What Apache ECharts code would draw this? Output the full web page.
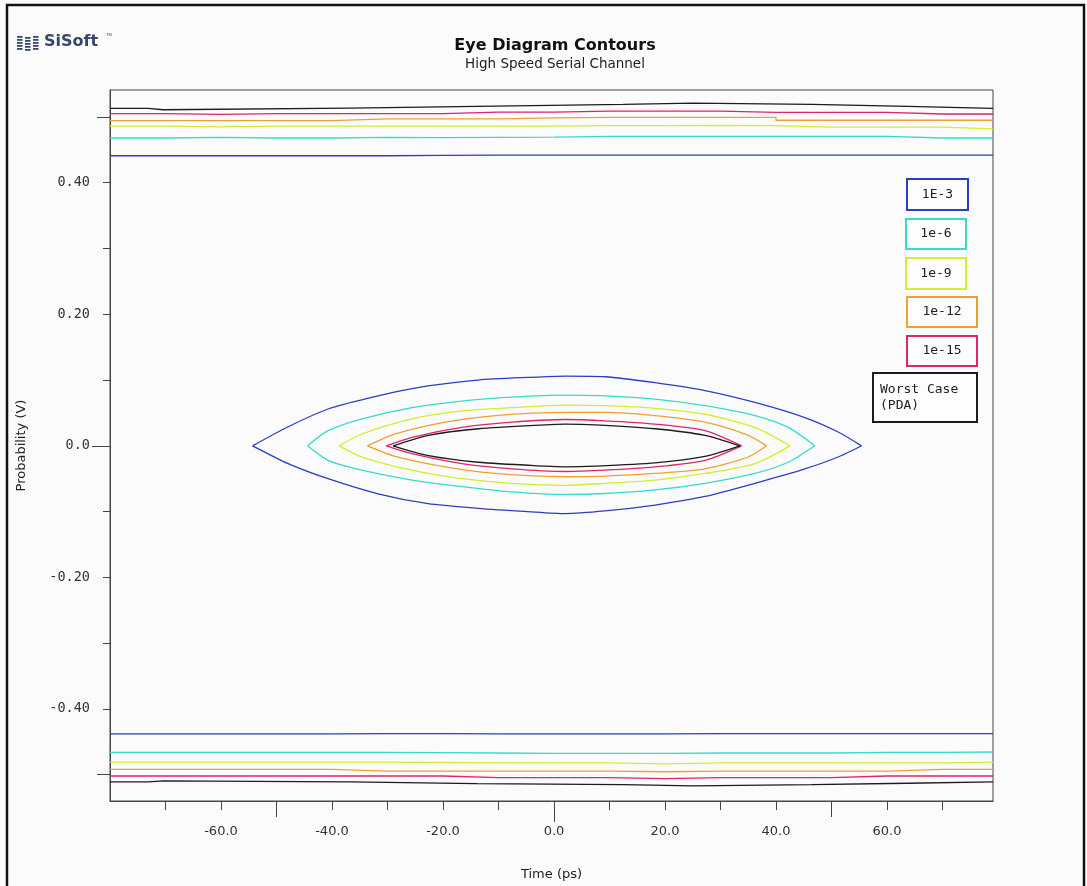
<!DOCTYPE html>
<html>
<head>
<meta charset="utf-8">
<script src="https://cdn.jsdelivr.net/npm/echarts@6/dist/echarts.min.js"></script>
<style>
html,body{margin:0;padding:0;background:#fbfbfb;}
#chart{width:1087px;height:886px;}
</style>
</head>
<body>
<div id="chart"></div>
<script>
// ---------- DATA ----------
const levelNames = ['1E-3', '1e-6', '1e-9', '1e-12', '1e-15', 'Worst Case\n(PDA)'];

const xTicks = [-70, -60, -50, -40, -30, -20, -10, 0, 10, 20, 30, 40, 50, 60, 70];
const xLabels = [-60, -40, -20, 0, 20, 40, 60];
const yTicks = [-0.5, -0.4, -0.3, -0.2, -0.1, 0, 0.1, 0.2, 0.3, 0.4, 0.5];
const yLabels = [-0.4, -0.2, 0, 0.2, 0.4];

// eye contours (time ps, voltage V) - upper and lower halves
const eye1E3X   = [-54.3, -47.9, -40.7, -31.7, -22.7, -13.7, -4.7, 2.0, 9.2, 18.2, 27.2, 36.2, 45.2, 51.2, 55.4];
const eye1E3Top = [0, 0.029, 0.056, 0.076, 0.091, 0.100, 0.104, 0.106, 0.105, 0.096, 0.084, 0.066, 0.043, 0.021, 0];
const eye1E3Bot = [0, -0.027, -0.050, -0.073, -0.088, -0.095, -0.100, -0.103, -0.099, -0.090, -0.077, -0.057, -0.035, -0.017, 0];

const eye1e6X   = [-44.4, -40.7, -34.6, -25.6, -16.6, -7.6, 2.0, 9.2, 18.2, 27.2, 36.2, 42.2, 47.0];
const eye1e6Top = [0, 0.023, 0.041, 0.058, 0.068, 0.074, 0.077, 0.076, 0.071, 0.061, 0.046, 0.028, 0];
const eye1e6Bot = [0, -0.022, -0.037, -0.052, -0.062, -0.070, -0.074, -0.0725, -0.067, -0.057, -0.042, -0.025, 0];

const eye1e9X   = [-38.7, -34.6, -25.6, -16.6, -7.6, 2.0, 9.2, 18.2, 27.2, 36.2, 42.5];
const eye1e9Top = [0, 0.018, 0.041, 0.053, 0.058, 0.062, 0.061, 0.057, 0.048, 0.028, 0];
const eye1e9Bot = [0, -0.017, -0.037, -0.050, -0.057, -0.060, -0.057, -0.052, -0.042, -0.027, 0];

const eye1e12X   = [-33.6, -28.6, -19.6, -10.6, 2.0, 9.2, 18.2, 27.2, 35.0, 38.3];
const eye1e12Top = [0, 0.018, 0.036, 0.046, 0.051, 0.051, 0.046, 0.036, 0.016, 0];
const eye1e12Bot = [0, -0.016, -0.032, -0.042, -0.047, -0.046, -0.042, -0.035, -0.017, 0];

const eye1e15X   = [-30.2, -25.6, -16.6, -7.6, 2.0, 9.2, 18.2, 27.2, 33.8];
const eye1e15Top = [0, 0.013, 0.028, 0.036, 0.040, 0.038, 0.033, 0.023, 0];
const eye1e15Bot = [0, -0.012, -0.027, -0.035, -0.039, -0.037, -0.032, -0.022, 0];

const eyePdaX   = [-29.0, -22.6, -13.6, -1.6, 2.0, 7.4, 18.2, 27.2, 33.5];
const eyePdaTop = [0, 0.016, 0.026, 0.032, 0.033, 0.032, 0.026, 0.016, 0];
const eyePdaBot = [0, -0.015, -0.025, -0.031, -0.032, -0.031, -0.026, -0.016, 0];

// upper / lower rails (time ps, voltage V)
const railX = [-80, -70, -60, -50, -40, -30, -20, -10, 0, 10, 20, 30, 40, 50, 60, 70, 79.1];
const rail1E3Top  = [0.441, 0.441, 0.441, 0.441, 0.441, 0.4415, 0.442, 0.442, 0.442, 0.442, 0.442, 0.442, 0.442, 0.442, 0.442, 0.442, 0.442];
const rail1e6Top  = [0.468, 0.469, 0.468, 0.468, 0.469, 0.4685, 0.469, 0.4695, 0.4705, 0.4705, 0.4705, 0.4705, 0.4705, 0.4705, 0.468, 0.468, 0.467];
const rail1e9Top  = [0.486, 0.485, 0.486, 0.486, 0.486, 0.486, 0.486, 0.486, 0.4867, 0.4867, 0.487, 0.4867, 0.4845, 0.4845, 0.4845, 0.482, 0.482];
const rail1e12Top = [0.4945, 0.4945, 0.4945, 0.4945, 0.497, 0.497, 0.497, 0.4985, 0.4995, 0.4995, 0.4995, 0.4995, 0.495, 0.495, 0.495, 0.495, 0.495];
const rail1e15Top = [0.505, 0.504, 0.505, 0.505, 0.505, 0.505, 0.5075, 0.5075, 0.509, 0.509, 0.509, 0.507, 0.507, 0.507, 0.5045, 0.5045, 0.5045];

const rail1E3Bot  = [-0.438, -0.438, -0.438, -0.438, -0.4375, -0.4375, -0.438, -0.438, -0.438, -0.438, -0.4375, -0.4375, -0.4375, -0.4375, -0.4375, -0.4375, -0.438];
const rail1e6Bot  = [-0.466, -0.466, -0.466, -0.466, -0.466, -0.4665, -0.467, -0.4675, -0.4675, -0.4675, -0.467, -0.467, -0.467, -0.466, -0.466, -0.4655, -0.4645];
const rail1e9Bot  = [-0.481, -0.481, -0.481, -0.481, -0.481, -0.4815, -0.482, -0.482, -0.482, -0.4835, -0.482, -0.482, -0.482, -0.482, -0.482, -0.481, -0.481];
const rail1e12Bot = [-0.492, -0.492, -0.492, -0.492, -0.4945, -0.4945, -0.4945, -0.4945, -0.4945, -0.4955, -0.4945, -0.4945, -0.4945, -0.4945, -0.492, -0.492, -0.492];
const rail1e15Bot = [-0.502, -0.502, -0.502, -0.502, -0.502, -0.502, -0.5045, -0.5045, -0.5045, -0.506, -0.5045, -0.5045, -0.5045, -0.502, -0.502, -0.502, -0.502];

const railPdaX   = [-80, -73.1, -70.4, -36.8, -13.9, 12.5, 25.1, 46.4, 63.8, 79.1];
const railPdaTop = [0.513, 0.511, 0.5135, 0.516, 0.519, 0.521, 0.519, 0.516, 0.513, 0.513];
const railPdaBot = [-0.511, -0.5095, -0.511, -0.5135, -0.515, -0.517, -0.515, -0.513, -0.511, -0.511];

// ---------- STYLE / LAYOUT ----------
const colors = ['#2b3fc4', '#35dcca', '#d2ee2c', '#f0a032', '#e0246e', '#1c1c1c'];
const FONT = 'DejaVu Sans';
const MONO = 'DejaVu Sans Mono';
const legendBoxes = [
  {x: 907, y: 179, w: 61, h: 31},
  {x: 906, y: 219, w: 60, h: 30},
  {x: 906, y: 258, w: 60, h: 31},
  {x: 907, y: 297, w: 70, h: 30},
  {x: 907, y: 336, w: 70, h: 30},
  {x: 873, y: 373, w: 104, h: 49}
];

const eyes = [
  [eye1E3X, eye1E3Top, eye1E3Bot],
  [eye1e6X, eye1e6Top, eye1e6Bot],
  [eye1e9X, eye1e9Top, eye1e9Bot],
  [eye1e12X, eye1e12Top, eye1e12Bot],
  [eye1e15X, eye1e15Top, eye1e15Bot],
  [eyePdaX, eyePdaTop, eyePdaBot]
];
const rails = [
  [railX, rail1E3Top, rail1E3Bot],
  [railX, rail1e6Top, rail1e6Bot],
  [railX, rail1e9Top, rail1e9Bot],
  [railX, rail1e12Top, rail1e12Bot],
  [railX, rail1e15Top, rail1e15Bot],
  [railPdaX, railPdaTop, railPdaBot]
];

function zip(xs, ys) { return xs.map((x, i) => [x, ys[i]]); }
function lineSeries(name, color, data, step) {
  return {
    type: 'line', name: name, data: data, showSymbol: false, symbol: 'none',
    step: step || false, smooth: step ? false : 0.25, silent: true, animation: false,
    lineStyle: {color: color, width: 1.3}, z: 3
  };
}

const series = [];
levelNames.forEach((n, i) => {
  const e = eyes[i], r = rails[i];
  series.push(lineSeries(n, colors[i], zip(e[0], e[1])));
  series.push(lineSeries(n, colors[i], zip(e[0], e[2])));
  series.push(lineSeries(n, colors[i], zip(r[0], r[1]), 'end'));
  series.push(lineSeries(n, colors[i], zip(r[0], r[2]), 'end'));
});

const X_MIN = -80, X_MAX = 79.1, Y_MIN = -0.54, Y_MAX = 0.541;
const axisColor = '#454545';

function xAxisExtra(vals, len) {
  return {type: 'value', min: X_MIN, max: X_MAX, position: 'bottom',
    axisLine: {show: false, onZero: false}, splitLine: {show: false}, axisLabel: {show: false},
    axisTick: {show: true, customValues: vals, length: len, lineStyle: {color: axisColor}}};
}
function yAxisExtra(vals, len) {
  return {type: 'value', min: Y_MIN, max: Y_MAX, position: 'left',
    axisLine: {show: false, onZero: false}, splitLine: {show: false}, axisLabel: {show: false},
    axisTick: {show: true, customValues: vals, length: len, lineStyle: {color: axisColor}}};
}

const graphic = [];
// outer frame
graphic.push({type: 'rect', shape: {x: 7, y: 5, width: 1077, height: 900},
  style: {fill: 'none', stroke: '#111', lineWidth: 2.5}, silent: true});
// logo
const logoColor = '#34486c';
for (let c = 0; c < 3; c++) {
  for (let r = 0; r < 5; r++) {
    graphic.push({type: 'rect', shape: {x: 17 + c * 8, y: 36 + r * 3 + (c === 1 ? 1 : 0), width: 5.5, height: 1.8},
      style: {fill: logoColor}, silent: true});
  }
}
graphic.push({type: 'text', left: 44, top: 34, style: {text: 'SiSoft', font: 'bold 16px "DejaVu Sans"', fill: logoColor}, silent: true});
graphic.push({type: 'text', left: 106, top: 33, style: {text: 'TM', font: '4px sans-serif', fill: logoColor}, silent: true});
// legend boxes
levelNames.forEach((n, i) => {
  const b = legendBoxes[i];
  graphic.push({type: 'rect', shape: {x: b.x, y: b.y, width: b.w, height: b.h},
    style: {fill: '#fdfdfd', stroke: colors[i], lineWidth: 2}, z: 10, silent: true});
  const multi = n.indexOf('\n') >= 0;
  graphic.push({type: 'text', z: 11, silent: true,
    x: multi ? b.x + 7 : b.x + b.w / 2, y: b.y + b.h / 2,
    style: {text: n, font: '13px ' + MONO, fill: '#222', align: multi ? 'left' : 'center',
      verticalAlign: 'middle', lineHeight: 16}});
});

const option = {
  backgroundColor: '#fbfbfb',
  animation: false,
  title: {
    text: 'Eye Diagram Contours', subtext: 'High Speed Serial Channel',
    left: 550, textAlign: 'center', top: 33, itemGap: 3,
    textStyle: {fontFamily: FONT, fontWeight: 'bold', fontSize: 16, color: '#111'},
    subtextStyle: {fontFamily: FONT, fontSize: 13.5, color: '#222'}
  },
  grid: {left: 110, right: 94, top: 90, bottom: 80, show: true, borderColor: axisColor, borderWidth: 1, backgroundColor: 'transparent'},
  xAxis: [
    {type: 'value', min: X_MIN, max: X_MAX, position: 'bottom',
      name: 'Time (ps)', nameLocation: 'middle', nameGap: 67,
      nameTextStyle: {fontFamily: FONT, fontSize: 13, color: '#222'},
      axisLine: {show: true, onZero: false, lineStyle: {color: axisColor}},
      splitLine: {show: false},
      axisTick: {show: true, customValues: xTicks, length: 9, lineStyle: {color: axisColor}},
      axisLabel: {customValues: xLabels, margin: 24, fontFamily: FONT, fontSize: 13, color: '#333',
        formatter: v => v.toFixed(1)}},
    xAxisExtra([-50, 50], 16),
    xAxisExtra([0], 21)
  ],
  yAxis: [
    {type: 'value', min: Y_MIN, max: Y_MAX, position: 'left',
      name: 'Probability (V)', nameLocation: 'middle', nameGap: 82,
      nameTextStyle: {fontFamily: FONT, fontSize: 13, color: '#222'},
      axisLine: {show: true, onZero: false, lineStyle: {color: axisColor}},
      splitLine: {show: false},
      axisTick: {show: true, customValues: yTicks, length: 7, lineStyle: {color: axisColor}},
      axisLabel: {customValues: yLabels, margin: 20, fontFamily: MONO, fontSize: 13.5, color: '#333',
        formatter: v => (Math.abs(v) < 1e-9 ? '0.0' : v.toFixed(2))}},
    yAxisExtra([-0.5, 0.5], 13),
    yAxisExtra([0], 18)
  ],
  series: series,
  graphic: graphic
};

const chart = echarts.init(document.getElementById('chart'), null, {renderer: 'canvas'});
chart.setOption(option);
</script>
</body>
</html>
